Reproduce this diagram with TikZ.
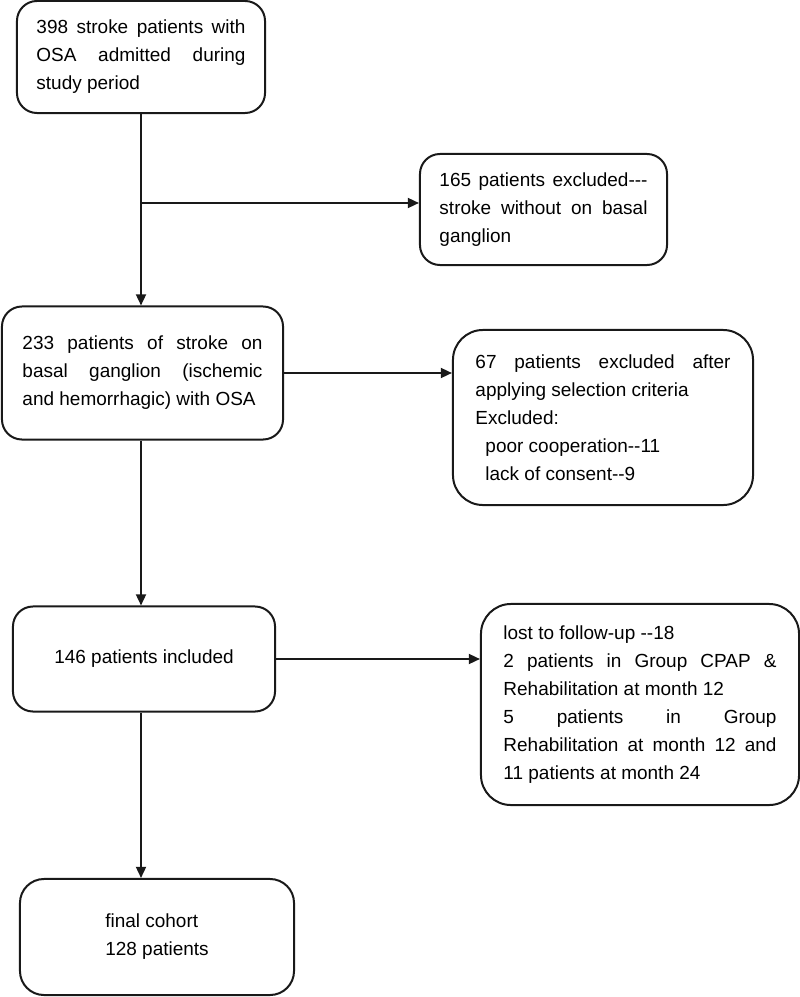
\documentclass[tikz,border=0pt]{standalone}
\usepackage{fontspec}
\newfontfamily\flowfont{Liberation Sans}
\usetikzlibrary{arrows.meta}
\tolerance=10000
\hyphenpenalty=10000

\tikzset{
  box/.style={draw=black!90, line width=1.42pt, rounded corners=0.5cm, inner sep=0pt,
    align=justify, font=\flowfont\fontsize{13.5}{19.9}\selectfont},
  arr/.style={draw=black!90, line width=1.42pt, -{Triangle[length=2.8mm, width=2.5mm]}}
}

\begin{document}
\begin{tikzpicture}[x=0.025cm, y=-0.025cm]
\useasboundingbox (0,0) rectangle (800,997);
\def\spine{141}

\node[box, minimum width=6.2cm, minimum height=2.8cm, text width=5.225cm] (n398) at (\spine, 57)
  {398 stroke patients with\linebreak OSA admitted during\linebreak study period};
\node[box, minimum width=6.175cm, minimum height=2.775cm, text width=5.2cm] (n165) at (543.5, 209.5)
  {165 patients excluded---\linebreak stroke without on basal\linebreak ganglion};
\node[box, minimum width=7.025cm, minimum height=3.325cm, text width=6.0cm] (n233) at (142.5, 373)
  {233 patients of stroke on\linebreak basal ganglion (ischemic\linebreak and hemorrhagic) with OSA};
\node[box, rounded corners=0.75cm, minimum width=7.5cm, minimum height=4.375cm, text width=6.375cm] (n67) at (603, 417.5)
  {67 patients excluded after\linebreak applying selection criteria\\Excluded:\\\hspace*{0.25cm}poor cooperation--11\\\hspace*{0.25cm}lack of consent--9};
\node[box, align=center, minimum width=6.55cm, minimum height=2.625cm] (n146) at (144, 659)
  {146 patients included};
\node[box, rounded corners=0.75cm, minimum width=7.95cm, minimum height=5.025cm, text width=6.825cm] (lost) at (640, 704.5)
  {lost to follow-up --18\\2 patients in Group CPAP \&\linebreak Rehabilitation at month 12\\5 patients in Group\linebreak Rehabilitation at month 12 and\linebreak 11 patients at month 24};
\node[box, rounded corners=0.6cm, align=left, minimum width=6.85cm, minimum height=2.9cm] (n128) at (157, 937)
  {final cohort\\128 patients};

% spine and side branches
\coordinate (split) at (\spine, 203);
\draw[arr] (n398.south) -- (n398.south |- n233.north);
\draw[arr] (split) -- (split -| n165.west);
\draw[arr] (n233.east) -- (n233.east -| n67.west);
\draw[arr] (n233.south -| split) -- (n146.north -| split);
\draw[arr] (n146.east) -- (n146.east -| lost.west);
\draw[arr] (n146.south -| split) -- (n128.north -| split);
\end{tikzpicture}
\end{document}
